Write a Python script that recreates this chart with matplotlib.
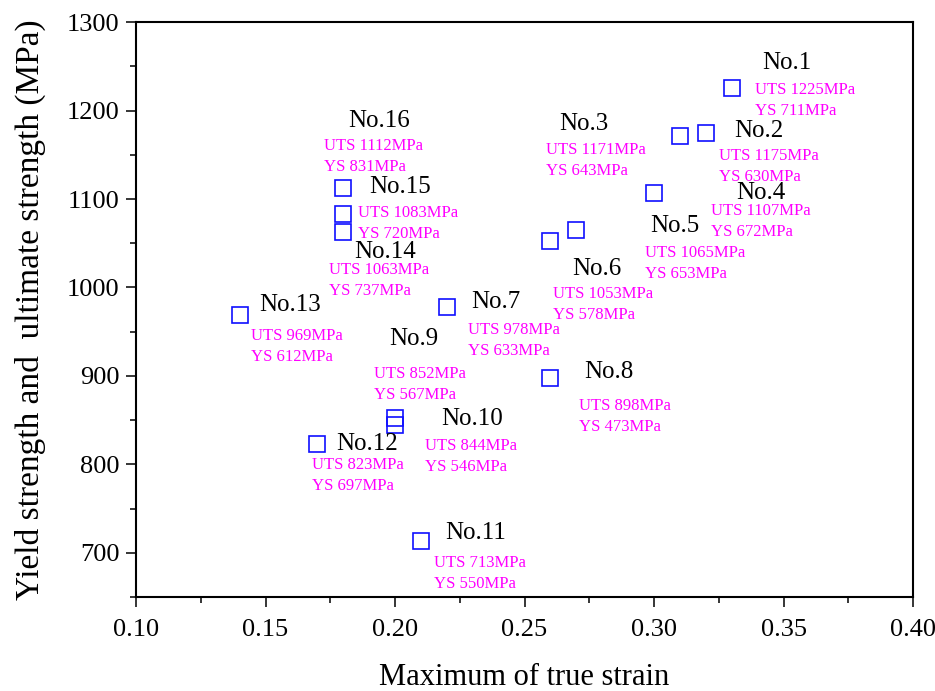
import matplotlib
matplotlib.use('Agg')
import matplotlib.pyplot as plt
from matplotlib.ticker import MultipleLocator

plt.rcParams['font.family'] = ['Liberation Serif', 'DejaVu Serif']

names = ['No.1', 'No.2', 'No.3', 'No.4', 'No.5', 'No.6', 'No.7', 'No.8',
         'No.9', 'No.10', 'No.11', 'No.12', 'No.13', 'No.14', 'No.15', 'No.16']
strain = [0.33, 0.32, 0.31, 0.30, 0.27, 0.26, 0.22, 0.26,
          0.20, 0.20, 0.21, 0.17, 0.14, 0.18, 0.18, 0.18]
uts = [1225, 1175, 1171, 1107, 1065, 1053, 978, 898,
       852, 844, 713, 823, 969, 1063, 1083, 1112]
ys = [711, 630, 643, 672, 653, 578, 633, 473,
      567, 546, 550, 697, 612, 737, 720, 831]

# label offsets in pixels from the marker (dx, dy down): name label, then UTS line
name_off = [(30, -25), (28, -2), (-121, -12), (82, 0), (74, -4), (22, 28),
            (24, -5), (34, -6), (-6, -79), (46, -6), (24, -8), (19, 0),
            (20, -10), (11, 20), (26, -27), (5, -67)]
val_off = [(23, 2), (13, 23), (-134, 14), (57, 18), (69, 23), (3, 53),
           (21, 23), (29, 28), (-21, -44), (30, 21), (13, 22), (-5, 21),
           (11, 21), (-14, 38), (15, -1), (-19, -42)]

fig = plt.figure(figsize=(9.35, 6.91), dpi=100)
ax = fig.add_axes([0.1455, 0.136, 0.831, 0.832])

ax.plot(strain, uts, ls='none', marker='s', ms=11, mfc='none',
        mec='#0f0fff', mew=1.2)

for i in range(len(names)):
    ax.annotate(names[i], (strain[i], uts[i]),
                xytext=(name_off[i][0], -name_off[i][1]),
                textcoords='offset pixels', ha='left', va='center',
                fontsize=18, color='black')
    ax.annotate('UTS ' + str(uts[i]) + 'MPa', (strain[i], uts[i]),
                xytext=(val_off[i][0], -val_off[i][1]),
                textcoords='offset pixels', ha='left', va='center',
                fontsize=12, color='#ff00ff')
    ax.annotate('YS ' + str(ys[i]) + 'MPa', (strain[i], uts[i]),
                xytext=(val_off[i][0], -val_off[i][1] - 21),
                textcoords='offset pixels', ha='left', va='center',
                fontsize=12, color='#ff00ff')

ax.set_xlim(0.10, 0.40)
ax.set_ylim(650, 1300)
ax.set_xticks([0.10, 0.15, 0.20, 0.25, 0.30, 0.35, 0.40])
ax.set_xticklabels(['0.10', '0.15', '0.20', '0.25', '0.30', '0.35', '0.40'])
ax.set_yticks([700, 800, 900, 1000, 1100, 1200, 1300])
ax.xaxis.set_minor_locator(MultipleLocator(0.025))
ax.yaxis.set_minor_locator(MultipleLocator(50))
ax.tick_params(which='major', direction='out', length=7, width=1.1,
               labelsize=19)
ax.tick_params(axis='x', which='major', pad=9)
ax.tick_params(axis='y', which='major', pad=5)
ax.tick_params(which='minor', direction='out', length=4, width=1.1)
for s in ax.spines.values():
    s.set_linewidth(1.5)

ax.set_xlabel('Maximum of true strain', fontsize=22, labelpad=16)
ax.set_ylabel('Yield strength and  ultimate strength (MPa)', fontsize=24,
              labelpad=15)

fig.savefig('out.png', dpi=100)
